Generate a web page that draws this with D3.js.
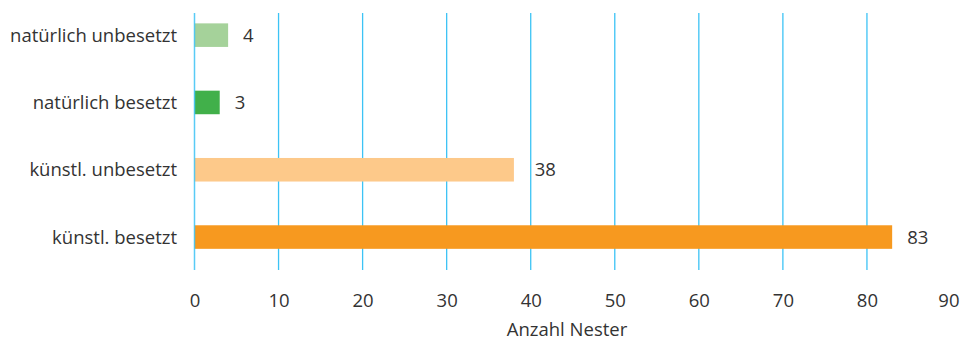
<!DOCTYPE html>
<html>
<head>
<meta charset="utf-8">
<script src="https://cdn.jsdelivr.net/npm/d3@7"></script>
<style>
  html, body { margin: 0; padding: 0; background: #fff; }
  svg { display: block; }
  text { font-family: "Open Sans", "Noto Sans", sans-serif; fill: #333; }
</style>
</head>
<body>
<svg id="chart" width="960" height="342"></svg>
<script>
// Nest counts by category
const categories = ["natürlich unbesetzt", "natürlich besetzt", "künstl. unbesetzt", "künstl. besetzt"];
const values = [4, 3, 38, 83];
const colors = ["#a5d29a", "#41b04a", "#fdc98a", "#f7991f"];
const xTicks = [0, 10, 20, 30, 40, 50, 60, 70, 80, 90];
const xTitle = "Anzahl Nester";

const W = 960;
const svg = d3.select("#chart");

const x = d3.scaleLinear().domain([0, 90]).range([194.5, 951]);
const y = d3.scaleBand().domain(categories)
  .range([1.5, 270.7]).paddingInner(0.65).paddingOuter(0.325);

const gridTop = 13, gridBottom = 270;
const gridColor = "#3cc3f5";

// vertical grid lines
svg.append("g").selectAll("line")
  .data(xTicks.filter(t => t > 0 && t < 90))
  .join("line")
  .attr("x1", d => x(d))
  .attr("x2", d => x(d))
  .attr("y1", gridTop).attr("y2", gridBottom)
  .style("stroke", gridColor).style("stroke-width", 1.3);

// bars
svg.append("g").selectAll("rect")
  .data(categories)
  .join("rect")
  .attr("x", x(0))
  .attr("y", d => y(d))
  .attr("width", (d, i) => x(values[i]) - x(0))
  .attr("height", y.bandwidth())
  .attr("fill", (d, i) => colors[i]);

// zero line above the bars
svg.append("line")
  .attr("x1", x(0)).attr("x2", x(0))
  .attr("y1", gridTop).attr("y2", gridBottom)
  .style("stroke", gridColor).style("stroke-width", 1.5).style("opacity", 0.85);

// value labels; nudged past any grid line they would cross
const fs = 18.5;
svg.append("g").selectAll("text")
  .data(categories)
  .join("text")
  .attr("x", (d, i) => {
    let start = x(values[i]) + 15;
    const w = String(values[i]).length * fs * 0.57;
    xTicks.forEach(t => {
      const gx = x(t);
      if (gx > start - 2 && gx < start + w + 2) start = gx + 4;
    });
    return start;
  })
  .attr("y", d => y(d) + y.bandwidth() / 2)
  .attr("dy", "0.36em")
  .attr("font-size", fs)
  .text((d, i) => values[i]);

// category labels
const yAxis = d3.axisLeft(y).tickSize(0).tickPadding(0);
const gy = svg.append("g").attr("transform", "translate(177,0)").call(yAxis);
gy.select(".domain").remove();
gy.selectAll("text").attr("font-size", fs).attr("fill", "#333")
  .style("font-family", "'Open Sans', 'Noto Sans', sans-serif").attr("dy", "0.36em");

// x axis tick labels, kept inside the right edge
const xAxis = d3.axisBottom(x).tickValues(xTicks).tickSize(0).tickPadding(0);
const gx = svg.append("g").attr("transform", "translate(0,300)").call(xAxis);
gx.select(".domain").remove();
gx.selectAll("text").attr("font-size", fs).attr("fill", "#333")
  .style("font-family", "'Open Sans', 'Noto Sans', sans-serif").attr("y", 0).attr("dy", "0.36em");
gx.selectAll(".tick").each(function(d) {
  const t = d3.select(this).select("text");
  const w = this.querySelector("text").getComputedTextLength();
  const right = x(d) + w / 2;
  if (right > W - 1) t.attr("x", (W - 1) - right);
});

// axis title
svg.append("text")
  .attr("x", 567).attr("y", 336)
  .attr("text-anchor", "middle")
  .attr("font-size", fs)
  .text(xTitle);
</script>
</body>
</html>
